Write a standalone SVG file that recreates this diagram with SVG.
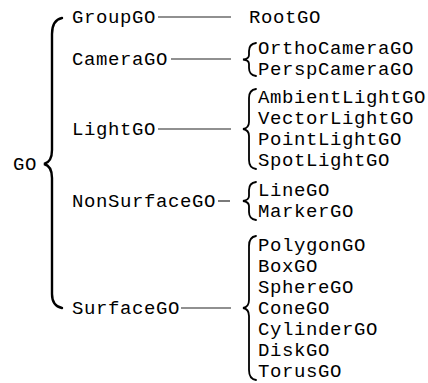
<svg xmlns="http://www.w3.org/2000/svg" width="428" height="383" viewBox="0 0 428 383">
<style>
text{font-family:"Liberation Mono","Courier New",monospace;font-size:19px;letter-spacing:0.6px;fill:#000}
.br{fill:none;stroke:#000;stroke-width:1.8;stroke-linecap:round}
.bb{fill:none;stroke:#000;stroke-width:2.4;stroke-linecap:round}
.ln{stroke:#222;stroke-width:1.2}
</style>
<rect width="428" height="383" fill="#fff"/>
<g id="connectors">
<line class="ln" x1="158" y1="17" x2="231" y2="17"/>
<line class="ln" x1="171" y1="59" x2="231" y2="59"/>
<line class="ln" x1="158" y1="129" x2="231" y2="129"/>
<line class="ln" x1="218" y1="201" x2="230" y2="201"/>
<line class="ln" x1="181" y1="308" x2="231" y2="308"/>
<path class="bb" d="M62 18 Q52 20 52 34 L52 150 Q52 162 44 164 Q52 166 52 178 L52 294 Q52 306 62 308"/>
<path class="br" d="M256 43 Q249 44 249 51 L249 55 Q249 59 243 59.5 Q249 60 249 64 L249 68 Q249 75 256 76"/>
<path class="br" d="M256 89 Q249 90 249 98 L249 122 Q249 128 243 129 Q249 130 249 136 L249 160 Q249 168 256 169"/>
<path class="br" d="M256 182 Q249 183 249 190 L249 196 Q249 200 243 201 Q249 202 249 206 L249 212 Q249 219 256 220"/>
<path class="br" d="M256 236 Q249 237 249 246 L249 300 Q249 307 243 308 Q249 309 249 316 L249 370 Q249 379 256 380"/>
</g>
<g id="GO"><text x="13" y="170">GO</text></g>
<g id="GroupGO"><text x="72" y="23">GroupGO</text></g>
<g id="CameraGO"><text x="72" y="65">CameraGO</text></g>
<g id="LightGO"><text x="72" y="135">LightGO</text></g>
<g id="NonSurfaceGO"><text x="72" y="207">NonSurfaceGO</text></g>
<g id="SurfaceGO"><text x="72" y="314">SurfaceGO</text></g>
<g id="RootGO"><text x="249" y="23">RootGO</text></g>
<g id="OrthoCameraGO"><text x="258" y="54">OrthoCameraGO</text></g>
<g id="PerspCameraGO"><text x="258" y="75">PerspCameraGO</text></g>
<g id="AmbientLightGO"><text x="258" y="103">AmbientLightGO</text></g>
<g id="VectorLightGO"><text x="258" y="124">VectorLightGO</text></g>
<g id="PointLightGO"><text x="258" y="145">PointLightGO</text></g>
<g id="SpotLightGO"><text x="258" y="166">SpotLightGO</text></g>
<g id="LineGO"><text x="258" y="196">LineGO</text></g>
<g id="MarkerGO"><text x="258" y="217">MarkerGO</text></g>
<g id="PolygonGO"><text x="258" y="251">PolygonGO</text></g>
<g id="BoxGO"><text x="258" y="272">BoxGO</text></g>
<g id="SphereGO"><text x="258" y="293">SphereGO</text></g>
<g id="ConeGO"><text x="258" y="314">ConeGO</text></g>
<g id="CylinderGO"><text x="258" y="335">CylinderGO</text></g>
<g id="DiskGO"><text x="258" y="356">DiskGO</text></g>
<g id="TorusGO"><text x="258" y="377">TorusGO</text></g>
</svg>
